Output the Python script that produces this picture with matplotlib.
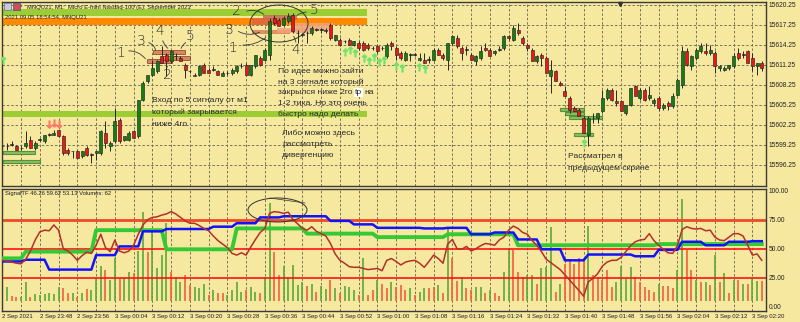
import matplotlib
matplotlib.use('Agg')
import matplotlib.pyplot as plt
import matplotlib.transforms as mtransforms
from matplotlib.patches import Rectangle, Ellipse

# --- M1 bars ---
opens = [
    15599.0, 15599.0, 15599.25, 15599.0, 15598.75, 15599.0, 15600.0, 15598.75, 15600.0, 15599.75,
    15600.75, 15600.75, 15601.5, 15600.5, 15598.5, 15598.25, 15598.25, 15597.5, 15598.75, 15597.75,
    15598.0, 15598.0, 15601.0, 15599.0, 15599.75, 15603.0, 15600.0, 15600.0, 15601.25, 15600.5,
    15606.0, 15608.75, 15609.75, 15610.25, 15612.5, 15612.75, 15611.75, 15612.5, 15612.25, 15611.25,
    15610.25, 15609.75, 15609.75, 15611.25, 15610.5, 15610.5, 15610.25, 15609.5, 15610.0, 15610.0,
    15610.25, 15611.0, 15611.25, 15609.75, 15611.0, 15612.25, 15612.0, 15612.75, 15618.25, 15618.0,
    15617.25, 15617.75, 15618.75, 15616.0, 15615.75, 15616.0, 15616.0, 15616.5, 15616.5, 15616.25,
    15617.25, 15615.0, 15615.0, 15614.75, 15615.0, 15614.25, 15614.5, 15614.5, 15614.25, 15613.75,
    15614.0, 15613.75, 15612.5, 15614.5, 15613.75, 15613.0, 15612.0, 15612.75, 15612.75, 15612.0,
    15612.0, 15612.0, 15612.0, 15613.5, 15612.75, 15612.0, 15614.5, 15615.25, 15613.75, 15613.5,
    15612.75, 15611.75, 15612.25, 15613.75, 15613.5, 15613.0, 15613.5, 15613.75, 15615.5, 15615.0,
    15616.5, 15615.25, 15614.25, 15613.5, 15611.75, 15612.75, 15612.25, 15609.5, 15610.25, 15608.5,
    15607.25, 15606.25, 15604.75, 15604.5, 15603.25, 15600.75, 15603.25, 15603.25, 15604.25, 15606.25,
    15607.5, 15605.75, 15605.75, 15604.0, 15605.25, 15608.0, 15606.25, 15607.5, 15606.25, 15605.5,
    15606.25, 15604.75, 15605.5, 15605.0, 15606.75, 15608.25, 15613.25, 15611.0, 15612.25, 15613.25,
    15613.25, 15613.0, 15613.0, 15610.75, 15610.5, 15610.75, 15611.0, 15613.0, 15612.75, 15613.25,
    15612.25, 15611.0, 15611.5]
highs = [
    15599.25, 15599.5, 15599.75, 15599.25, 15599.0, 15601.25, 15600.5, 15599.75, 15600.25, 15600.75,
    15601.0, 15601.5, 15601.5, 15600.75, 15598.75, 15598.25, 15598.5, 15598.25, 15599.0, 15598.0,
    15598.25, 15601.5, 15602.75, 15599.75, 15604.75, 15603.25, 15600.5, 15601.25, 15601.5, 15606.0,
    15608.75, 15609.75, 15612.0, 15612.0, 15614.0, 15613.0, 15613.5, 15613.0, 15612.5, 15611.5,
    15610.5, 15610.0, 15611.25, 15611.5, 15610.75, 15611.0, 15610.5, 15610.25, 15610.25, 15610.75,
    15611.25, 15611.5, 15611.5, 15611.25, 15612.75, 15612.5, 15613.75, 15618.25, 15618.75, 15618.25,
    15618.5, 15619.0, 15619.0, 15616.5, 15616.0, 15616.25, 15617.0, 15616.75, 15616.75, 15616.75,
    15617.5, 15615.75, 15615.25, 15615.0, 15615.25, 15614.75, 15614.75, 15614.75, 15614.5, 15614.0,
    15614.25, 15614.0, 15614.5, 15614.75, 15614.0, 15613.25, 15613.25, 15613.0, 15613.0, 15613.0,
    15613.0, 15612.5, 15613.75, 15613.75, 15613.0, 15614.5, 15615.75, 15615.75, 15614.0, 15614.0,
    15613.0, 15612.75, 15614.0, 15614.5, 15613.75, 15613.5, 15614.0, 15615.75, 15615.75, 15617.25,
    15617.5, 15615.5, 15614.5, 15613.75, 15612.75, 15613.0, 15612.5, 15612.0, 15610.5, 15608.75,
    15608.0, 15606.5, 15605.0, 15604.75, 15603.5, 15603.5, 15604.0, 15604.0, 15607.5, 15607.75,
    15607.75, 15607.5, 15606.0, 15605.25, 15607.75, 15608.25, 15607.75, 15607.75, 15608.0, 15606.25,
    15606.5, 15605.5, 15605.75, 15607.0, 15609.25, 15614.0, 15613.75, 15612.75, 15613.75, 15614.5,
    15614.5, 15614.25, 15613.25, 15611.25, 15611.0, 15611.25, 15613.0, 15613.75, 15613.25, 15613.5,
    15613.0, 15611.5, 15611.75]
lows = [
    15598.75, 15598.5, 15599.0, 15598.5, 15598.5, 15598.75, 15598.75, 15598.5, 15599.75, 15599.5,
    15600.5, 15600.75, 15600.5, 15597.75, 15597.75, 15597.25, 15597.25, 15597.25, 15597.5, 15596.5,
    15597.0, 15597.75, 15598.75, 15598.25, 15599.5, 15599.5, 15599.75, 15599.75, 15600.25, 15600.25,
    15605.75, 15608.5, 15609.5, 15610.0, 15611.5, 15609.5, 15611.5, 15612.0, 15611.75, 15609.25,
    15610.0, 15609.5, 15609.5, 15610.0, 15610.0, 15610.25, 15609.75, 15609.5, 15609.75, 15609.75,
    15610.0, 15610.75, 15609.75, 15609.5, 15610.75, 15611.0, 15611.75, 15612.0, 15617.25, 15617.0,
    15617.0, 15617.5, 15616.0, 15614.5, 15615.5, 15614.5, 15615.75, 15616.25, 15616.0, 15616.0,
    15615.0, 15614.75, 15614.0, 15614.5, 15614.25, 15614.0, 15613.5, 15613.25, 15613.5, 15613.5,
    15613.0, 15613.5, 15612.25, 15613.5, 15612.0, 15612.0, 15611.75, 15611.75, 15612.5, 15611.75,
    15611.5, 15611.5, 15611.75, 15612.75, 15612.0, 15610.5, 15614.25, 15613.75, 15612.0, 15612.75,
    15612.0, 15611.25, 15612.0, 15613.25, 15612.5, 15612.75, 15613.25, 15613.5, 15615.0, 15614.75,
    15615.75, 15614.25, 15613.25, 15611.75, 15611.5, 15611.0, 15610.0, 15607.0, 15608.75, 15608.0,
    15606.5, 15604.0, 15604.25, 15603.5, 15601.0, 15599.0, 15602.5, 15602.5, 15604.0, 15606.0,
    15605.75, 15605.0, 15604.25, 15603.75, 15605.0, 15606.5, 15606.0, 15605.75, 15606.0, 15605.0,
    15604.5, 15604.5, 15604.5, 15604.75, 15606.5, 15607.75, 15611.0, 15610.5, 15612.0, 15613.0,
    15612.75, 15612.75, 15610.0, 15610.25, 15610.25, 15610.5, 15610.75, 15612.0, 15612.25, 15611.5,
    15610.25, 15609.75, 15610.25]
closes = [
    15599.0, 15599.0, 15599.25, 15598.5, 15598.75, 15599.5, 15598.75, 15599.5, 15600.0, 15600.75,
    15600.75, 15601.0, 15600.5, 15598.0, 15598.0, 15598.25, 15597.25, 15598.25, 15597.75, 15597.75,
    15598.25, 15601.25, 15599.5, 15599.5, 15602.75, 15599.75, 15600.5, 15601.0, 15600.25, 15606.0,
    15608.5, 15609.75, 15610.75, 15611.75, 15611.5, 15611.75, 15613.25, 15612.5, 15611.75, 15610.5,
    15610.25, 15609.5, 15611.0, 15610.0, 15610.0, 15610.5, 15609.75, 15610.0, 15610.0, 15610.5,
    15611.0, 15611.0, 15609.75, 15611.25, 15612.75, 15611.25, 15613.5, 15617.75, 15617.5, 15617.0,
    15618.25, 15618.5, 15616.25, 15616.0, 15615.75, 15616.0, 15616.75, 15616.5, 15616.5, 15616.5,
    15615.25, 15615.75, 15614.25, 15614.75, 15614.25, 15614.75, 15613.75, 15613.5, 15613.75, 15613.75,
    15613.25, 15613.75, 15614.25, 15614.0, 15612.75, 15612.25, 15613.0, 15612.75, 15612.75, 15612.25,
    15611.5, 15612.0, 15613.5, 15612.75, 15612.25, 15614.5, 15615.5, 15614.0, 15613.0, 15613.5,
    15612.0, 15612.5, 15613.25, 15613.5, 15612.5, 15613.25, 15613.5, 15615.5, 15615.25, 15616.75,
    15616.0, 15614.5, 15613.75, 15611.75, 15612.5, 15612.25, 15610.0, 15610.5, 15608.75, 15608.25,
    15606.5, 15604.5, 15604.25, 15603.5, 15601.0, 15603.25, 15603.25, 15604.0, 15606.25, 15607.5,
    15606.0, 15605.5, 15604.25, 15605.25, 15607.75, 15606.5, 15607.5, 15606.0, 15606.75, 15606.0,
    15604.75, 15605.25, 15605.0, 15606.5, 15609.0, 15613.25, 15611.25, 15612.5, 15613.5, 15614.0,
    15613.0, 15613.5, 15611.0, 15611.0, 15610.75, 15611.25, 15612.5, 15612.25, 15612.75, 15611.5,
    15611.0, 15611.5, 15610.75]

# --- indicator window (SignalTF + volumes) ---
signal_red = [
    40, 39, 38.5, 37.5, 37, 41, 48, 57.5, 64.5, 66,
    65.5, 70.5, 66, 50, 48, 44.5, 40, 44, 47, 46,
    53, 62.5, 51, 47.5, 57.5, 48, 46.5, 48, 53, 62.5,
    70.5, 75, 77, 77.5, 79, 80, 82, 80, 77, 74,
    72, 72, 70, 67.5, 65.5, 61, 57, 54, 51, 46,
    44.5, 46.5, 44.5, 51.5, 58, 64, 67.5, 80.5, 82, 81.5,
    80.5, 81.5, 75, 71.5, 67.5, 66, 69, 65, 63, 61,
    54.5, 45.5, 40, 37.5, 34.5, 34, 34, 33, 32, 32.5,
    33, 31, 40, 41.5, 39, 36, 38.5, 39.5, 40, 37.5,
    34, 39, 44.5, 41.5, 37.5, 54, 58, 50, 49.5, 52,
    48, 50, 52.5, 54.5, 54, 53, 57.5, 60, 66, 69.5,
    67.5, 64, 62.5, 57, 53, 47.5, 41, 38, 35, 32,
    27.5, 23, 18.5, 14, 9, 21.5, 24.5, 28.5, 35, 38.5,
    40, 40, 42.5, 47.5, 52.5, 56, 57.5, 58, 63, 57,
    53, 49.5, 46.5, 46, 52.5, 66.5, 69, 67.5, 67, 67.5,
    65.5, 66, 60, 57.5, 57, 60, 63, 63, 61, 53,
    44.5, 45.5, 40]
signal_blue = ([39] * 5 + [40.5] * 5 + [32] * 10 + [44.5] * 5 + [52] * 5 + [65] * 5 + [67] * 10
               + [69] * 5 + [72] * 5 + [77] * 5 + [78] * 10 + [74] * 5 + [71] * 5 + [68] * 10
               + [67.5] * 5 + [68] * 5 + [62.5] * 5 + [64] * 5 + [58] * 5 + [49.5] * 5 + [40] * 5
               + [45] * 10 + [43.5] * 5 + [49] * 5 + [56] * 5 + [53] * 5 + [56] * 5 + [56.5] * 3)
signal_green = ([41.7] * 5 + [47.5] * 15 + [66] * 15 + [49.5] * 15 + [67.5] * 15 + [63] * 15
                + [60] * 15 + [62.5] * 15 + [53] * 30 + [54] * 23)
volumes = [
    12, 17, 9, 8, 8, 21, 8, 11, 10, 11,
    11.5, 11, 17, 16, 11.5, 11.5, 8, 11.5, 15, 14,
    25, 35, 32, 23, 42, 25, 25, 30, 29, 48,
    82, 47, 66, 33, 45, 72, 30, 26, 21, 27,
    19, 17, 16, 20, 10, 14, 12, 11.5, 10, 14,
    21, 13, 14, 17, 13, 11.5, 26, 89, 47, 27,
    35, 26, 36, 19, 21, 18, 20, 13, 18, 15,
    23, 16, 11.5, 18, 17, 14, 10, 42, 10, 14,
    23, 20, 16, 21, 17, 19, 14, 16, 10, 13,
    16, 16, 17, 19, 11.5, 67, 42, 22, 26, 16,
    14, 17, 17, 11.5, 14, 11.5, 9, 30, 50, 49,
    30, 26, 27, 27, 20, 33, 34, 69, 13, 19.5,
    37, 39, 37, 42, 42, 70, 27, 26, 23, 32,
    17, 21, 35, 24, 34, 26, 21, 17, 14, 13,
    19.5, 18, 18, 16, 32, 93, 49, 32, 23, 21,
    21.5, 19, 45, 21, 29, 12, 23, 23, 20, 19.5,
    24, 22.5, 22]
vol_dir = ("ggrrggrggg" "gggrrgrgrg" "ggrggrggrg" "grggggrggr" "rgggrgrrgg"
           "ggrggrggrr" "gggggrgrgg" "rgrgggrgrr" "grrgrrrgrg" "grrgrgrrgr"
           "rggrgrrggr" "rrggrgggrg" "rrrrrgrrrr" "rggggrrrrr" "grrrggrrgr"
           "grgrgrgrgr" "ggr")
signal_levels = [75, 50, 25]

price_ticks = [15596.25, 15599.25, 15602.25, 15605.25, 15608.25, 15611.25, 15614.25, 15617.25, 15620.25]
ind_ticks = [0, 25, 50, 75, 100]
time_labels = ['2 Sep 2021', '2 Sep 23:48', '2 Sep 23:56', '3 Sep 00:04', '3 Sep 00:12',
               '3 Sep 00:20', '3 Sep 00:28', '3 Sep 00:36', '3 Sep 00:44', '3 Sep 00:52',
               '3 Sep 01:00', '3 Sep 01:08', '3 Sep 01:16', '3 Sep 01:24', '3 Sep 01:32',
               '3 Sep 01:40', '3 Sep 01:48', '3 Sep 01:56', '3 Sep 02:04', '3 Sep 02:12',
               '3 Sep 02:20']

BG = '#f6e89e'
GRID = '#75735e'
TXT = '#2a2a2a'
n = len(closes)
bars = list(range(n))

fig = plt.figure(figsize=(8, 3.22), dpi=100)
fig.patch.set_facecolor(BG)
# pixel coords measured from the top-left corner of the screenshot
pix = mtransforms.Affine2D().scale(1 / 100, -1 / 100).translate(0, 3.22) + fig.dpi_scale_trans

def P(x, y):
    return x / 800, 1 - y / 322

ax = fig.add_axes([2 / 800, 1 - 186 / 322, 764 / 800, 184 / 322])
ax2 = fig.add_axes([2 / 800, 1 - 311 / 322, 764 / 800, 122 / 322])

for a in (ax, ax2):
    a.set_facecolor(BG)
    a.set_xlim(-0.07, 162.9)
    a.set_xticks(range(4, n, 4))
    a.tick_params(axis='x', length=0, labelbottom=False)
    a.grid(axis='x', color=GRID, lw=0.7, ls=(0, (2.5, 2)))
    a.yaxis.tick_right()
    a.tick_params(axis='y', length=0, pad=2, labelsize=4.8, labelcolor='#222')
    for s in a.spines.values():
        s.set_color('#3a3a3a')
        s.set_linewidth(1)
    a.set_axisbelow(True)

# ---------- price window ----------
ax.set_ylim(15593.05, 15620.65)
ax.set_yticks(price_ticks)
ax.set_yticklabels(['%.2f' % p for p in price_ticks], family='Liberation Sans')
ax.grid(axis='y', color=GRID, lw=0.7, ls=(0, (2.5, 2)))

# objects drawn on the chart (rectangles)
for (x0, y0, x1, y1), fc in [((2, 9.3, 367, 15.7), '#9ccd34'), ((2, 18.3, 367, 25), '#ff8a00'),
                             ((2, 110.7, 367, 117.3), '#9ccd34')]:
    ax.add_patch(Rectangle((x0, y0), x1 - x0, y1 - y0, transform=pix, fc=fc, ec='none', zorder=1))
for (x0, y0, x1, y1) in [(3, 151, 35, 154), (3, 159.5, 40, 162.5), (560, 107.5, 584, 110.5),
                         (565, 111.5, 584, 114.5), (569, 116, 602, 119), (574, 133, 593, 136)]:
    ax.add_patch(Rectangle((x0, y0), x1 - x0, y1 - y0, transform=pix, fc='#7fbb58',
                           ec='#4d8a32', lw=0.8, alpha=0.9, zorder=2))
for (x0, y0, x1, y1) in [(147, 59, 172, 63), (153, 50, 185, 54), (163, 56, 190, 60)]:
    ax.add_patch(Rectangle((x0, y0), x1 - x0, y1 - y0, transform=pix, fc='#c9694f',
                           ec='#8b3a2a', lw=0.7, alpha=0.75, zorder=2))
for (x0, y0, x1, y1), fc in [((293, 23, 333, 31), '#f2a27a'), ((252, 18, 277, 25), '#e0643c'),
                             ((263, 15, 297, 20), '#c9694f'), ((252, 30, 290, 34), '#d9805c'),
                             ((277, 28, 310, 33), '#f2a27a')]:
    ax.add_patch(Rectangle((x0, y0), x1 - x0, y1 - y0, transform=pix, fc=fc,
                           ec='none', alpha=0.85, zorder=2))

# candles
for i in bars:
    o, h, l, c = opens[i], highs[i], lows[i], closes[i]
    ax.vlines(i, l, h, color='#262626', lw=0.7, zorder=3)
    if c > o:
        fc = '#11800f'
    elif c < o:
        fc = '#f01414'
    else:
        fc = '#262626'
    ax.add_patch(Rectangle((i - 0.32, min(o, c)), 0.64, max(abs(c - o), 0.06),
                           fc=fc, ec='#262626', lw=0.45, zorder=4))

# signal arrows (screen positions)
up_x = [345, 350, 355, 364, 369, 374, 379, 384, 3, 396, 402, 419, 425, 584]
up_y = [52, 50, 53, 58, 61, 57, 62, 60, 60, 66, 68, 67, 69, 143]
ax.plot(up_x, up_y, transform=pix, ls='none', marker=r'$\uparrow$', ms=5, color='#72e46a',
        zorder=6, clip_on=False)
ax.plot([49, 54, 59], [124, 123, 124], transform=pix, ls='none', marker=r'$\downarrow$', ms=5,
        color='#ff7a6a', zorder=6)
ax.plot([620], [3.5], transform=pix, ls='none', marker='v', ms=3, color='#333333', clip_on=False)

# window captions
fig.text(*P(27, 7.5), 'MNQU21, M1:  Micro E-mini Nasdaq-100 (E): September 2021', fontsize=4.2,
         family='Liberation Sans', color='#202020', va='center')
fig.text(*P(5, 17), '2021.09.05 18:54:54, MNQU21', fontsize=4.2, family='Liberation Sans',
         color='#202020', va='center')
fig.patches.append(Rectangle((4, 3), 7, 7, transform=pix, fc='#c8c8d8', ec='#6070a0', lw=0.5))
fig.patches.append(Rectangle((13, 3), 7, 7, transform=pix, fc='#d05050', ec='#4050a0', lw=0.5))

# comments
NOTE = dict(fontsize=6.1, family='Liberation Sans', color=TXT, va='center')

def block(x, y0, lines, step=10.8):
    for k, s in enumerate(lines):
        fig.text(*P(x, y0 + k * step), s, **NOTE)

block(152, 101, ['Вход по 5 сигналу от м1', 'который закрывается', 'ниже 4го'], step=11.7)
block(278, 71, ['По идее можно зайти', 'на 3 сигнале который'])
block(278, 103.4, ['1-2 тика. Но это очень', 'быстро надо делать'])
block(282, 133.3, ['Либо можно здесь', 'рассмотреть', 'дивергенцию'], step=11)
block(568, 156.7, ['Рассматрел в', 'предыдущем скрине'], step=11.3)

# third line has the highlighted "tp"
renderer = fig.canvas.get_renderer()
def text_w(s):
    t = fig.text(0, 0, s, **NOTE)
    w = t.get_window_extent(renderer).width
    t.remove()
    return w
space = text_w('a b') - text_w('ab')
x_px = 278
fig.text(*P(x_px, 92.6), 'закрылся ниже 2го', **NOTE)
x_px += text_w('закрылся ниже 2го') + space
fig.text(*P(x_px, 92.6), 'tp', bbox=dict(fc='white', ec='none', pad=0.6), **NOTE)
x_px += text_w('tp') + space
fig.text(*P(x_px, 92.6), 'на', **NOTE)

# handwritten marks
hand = dict(color='#2e2e2e', fontsize=10, ha='center', va='center', fontweight='light')
for x, y, s in [(121, 53, '1'), (141, 41, '3'), (160, 31, '4'), (190, 36, '5'), (167, 75, '2'),
                (236, 11, '2'), (229, 30, '3'), (233, 48, '1'), (296, 50, '4'), (314, 10, '5')]:
    fig.text(*P(x, y), s, **hand)
for (x0, y0), (x1, y1), r in [((126, 51), (147, 61), -0.3), ((146, 42), (156, 53), -0.4),
                              ((162, 38), (170, 50), 0.2), ((188, 41), (180, 51), 0.2),
                              ((168, 70), (166, 62), 0.0), ((244, 12), (266, 16), -0.3),
                              ((236, 30), (262, 31), 0.3), ((240, 45), (268, 36), 0.2),
                              ((296, 45), (292, 34), 0.2), ((309, 12), (295, 17), 0.2)]:
    ax.annotate('', xy=(x1, y1), xytext=(x0, y0), xycoords=pix, textcoords=pix,
                arrowprops=dict(arrowstyle='-', color='#3a3a3a', lw=0.6,
                                connectionstyle='arc3,rad=%s' % r))
ax.add_patch(Ellipse((279, 23.5), 58, 37, transform=pix, fill=False, ec='#333333', lw=0.7, zorder=6))

# ---------- indicator window ----------
ax2.set_ylim(-3.7, 101.5)
ax2.set_yticks(ind_ticks)
ax2.set_yticklabels(['%.2f' % v for v in ind_ticks], family='Liberation Sans')
ax2.vlines(bars, 5, volumes, colors=['#5aa83a' if d == 'g' else '#f2603c' for d in vol_dir],
           lw=1.2, zorder=1)
for lvl in signal_levels:
    ax2.axhline(lvl, color='#f04a28' if lvl == 75 else '#ff1414', lw=2 if lvl == 75 else 1.2, zorder=2)
ax2.plot(bars, signal_green, color='#35c935', lw=2.8, zorder=3)
ax2.plot(bars, signal_blue, color='#1212ff', lw=1.8, zorder=4)
ax2.plot(bars, signal_red, color='#b3302a', lw=1.1, zorder=5)
ax2.add_patch(Ellipse((277.5, 210), 59, 24, transform=pix, fill=False, ec='#333333', lw=0.7, zorder=6))
ax2.plot([270, 305], [198, 203], transform=pix, color='#333333', lw=0.5, zorder=6)
fig.text(*P(5, 194), 'SignalTF 46.26 59.62 53.13 Volumes: 62', fontsize=4.2,
         family='Liberation Sans', color='#202020', va='center')

for k, lab in enumerate(time_labels):
    ax2.text(bars[k * 8], -0.045, lab, transform=ax2.get_xaxis_transform(), fontsize=4.3,
             family='Liberation Sans', color='#202020', ha='left', va='center', clip_on=False)

fig.savefig('out.png', dpi=100, facecolor=BG)
